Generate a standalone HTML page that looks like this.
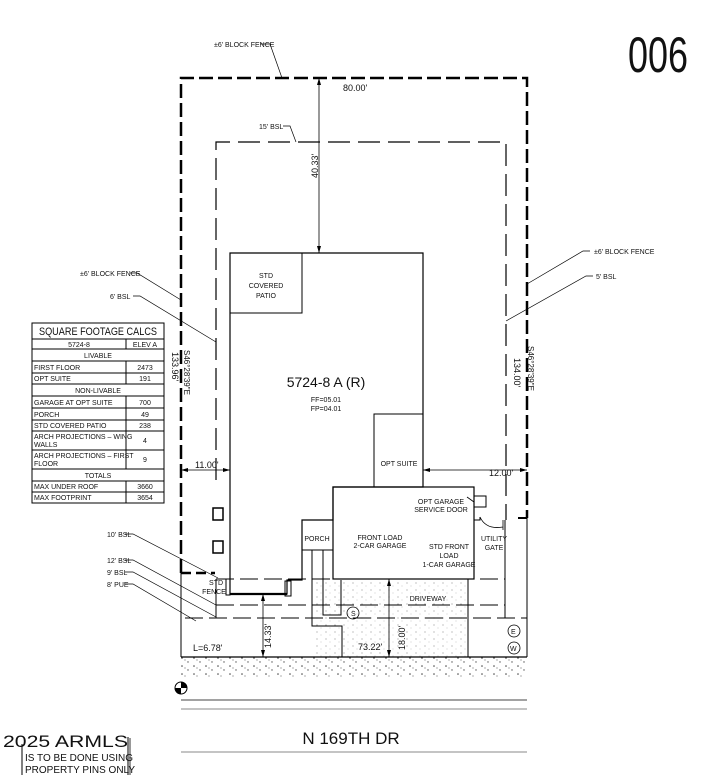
<!DOCTYPE html>
<html><head><style>
html,body{margin:0;padding:0;background:#fff;}
svg{display:block;}
text{font-family:"Liberation Sans",sans-serif;fill:#111;}
</style></head><body>
<svg width="712" height="775" viewBox="0 0 712 775" xmlns="http://www.w3.org/2000/svg">
<defs>
<pattern id="dots" width="9" height="7" patternUnits="userSpaceOnUse">
<circle cx="2" cy="2" r="0.6" fill="#999"/><circle cx="6" cy="5" r="0.5" fill="#bbb"/>
</pattern>
<pattern id="hatch" width="12" height="8" patternUnits="userSpaceOnUse">
<circle cx="2" cy="2" r="0.8" fill="#444"/><circle cx="8" cy="6" r="0.7" fill="#555"/><circle cx="5" cy="4" r="0.6" fill="#777"/>
</pattern>
</defs>
<text x="628" y="72" font-size="50" textLength="60" lengthAdjust="spacingAndGlyphs">006</text>

<rect x="342" y="579" width="126" height="78" fill="url(#dots)"/>
<rect x="314" y="580" width="28" height="77" fill="url(#dots)"/>
<rect x="181" y="657" width="346" height="20" fill="url(#hatch)"/>

<g fill="none" stroke="#000">
<path d="M181 573 V78 H527 V518" stroke-width="2.5" stroke-dasharray="14 5"/>
<path d="M181 573 H215" stroke-width="2.5" stroke-dasharray="10 5"/>
<path d="M518 518 H527" stroke-width="2"/>
<path d="M216 480 V142 H506 V520" stroke-width="1.2" stroke-dasharray="22 8"/>
<path d="M181 573 V657 M527 518 V657" stroke-width="1"/>
<path d="M181 657 H527" stroke-width="1.2"/>
<path d="M216 579 H505" stroke-width="1" stroke-dasharray="18 6"/>
<path d="M216 605 H505" stroke-width="1" stroke-dasharray="18 6"/>
<path d="M185 618 H527" stroke-width="1" stroke-dasharray="18 6"/>
<path d="M216 579 V618 M505 520 V618" stroke-width="1"/>
<path d="M230 253 H423 V487 H333 V520 H302 V580 H287 V594 H230 Z" stroke-width="1.2"/>
<path d="M230 594 H287" stroke-width="2.2"/>
<rect x="226" y="579" width="4" height="16" stroke-width="1"/>
<rect x="285" y="581" width="6" height="15" stroke-width="1"/>
<rect x="230" y="253" width="72" height="60" stroke-width="1"/>
<rect x="374" y="414" width="49" height="73" stroke-width="1"/>
<rect x="333" y="487" width="141" height="92" stroke-width="1.2"/>
<rect x="302" y="520" width="31" height="30" stroke-width="1"/>
<path d="M312 550 V626 H342 V657 M323 550 V615 H341 V580" stroke-width="1"/>
<path d="M468 579 V657 M474 520 H480 V517" stroke-width="1"/>
<rect x="474" y="496" width="12" height="11" stroke-width="1"/>
<path d="M474 502 L467 497" stroke-width="0.8"/>
<path d="M474 510 V520 M503 520 V530 M480 517 Q486 530 503 527" stroke-width="0.8"/>
<rect x="213" y="508" width="10" height="12" stroke-width="1.5"/>
<rect x="213" y="541" width="10" height="12" stroke-width="1.5"/>
<path d="M319 78 V253" stroke-width="0.8"/>
<path d="M181 470 H230 M423 470 H527" stroke-width="0.8"/>
<path d="M263 594 V657 M389 579 V657" stroke-width="0.8"/>
<path d="M260 44 H270 L282 78" stroke-width="0.7"/>
<path d="M283 126 H290 L296 142" stroke-width="0.7"/>
<path d="M130 273 H137 L181 300" stroke-width="0.7"/>
<path d="M133 296 H140 L216 342" stroke-width="0.7"/>
<path d="M590 251 H583 L527 284" stroke-width="0.7"/>
<path d="M593 276 H586 L506 321" stroke-width="0.7"/>
<path d="M125 534 H133 L218 578" stroke-width="0.7"/>
<path d="M125 560 H133 L216 605" stroke-width="0.7"/>
<path d="M125 572 H133 L216 617" stroke-width="0.7"/>
<path d="M125 584 H133 L196 621" stroke-width="0.7"/>
<path d="M181 700 H527" stroke="#444" stroke-width="1"/>
<path d="M181 709 H527" stroke="#888" stroke-width="1"/>
<path d="M181 752 H527" stroke="#888" stroke-width="1"/>
<circle cx="353" cy="613" r="6" stroke-width="0.8"/>
<circle cx="514" cy="631" r="6" stroke-width="0.8"/>
<circle cx="514" cy="648" r="6" stroke-width="0.8"/>
<circle cx="181" cy="688" r="6" stroke-width="1"/>
</g>
<path d="M181 682 A6 6 0 0 1 187 688 H181 Z M181 694 A6 6 0 0 1 175 688 H181 Z" fill="#000"/>
<g fill="#000">
<path d="M319 78 l-2 7 h4Z M319 253 l-2 -7 h4Z"/>
<path d="M181 470 l7 -2 v4Z M230 470 l-7 -2 v4Z M423 470 l7 -2 v4Z M527 470 l-7 -2 v4Z"/>
<path d="M263 594 l-2 7 h4Z M263 657 l-2 -7 h4Z M389 579 l-2 7 h4Z M389 657 l-2 -7 h4Z"/>
</g>

<g font-size="7">
<text x="214" y="47">±6' BLOCK FENCE</text>
<text x="259" y="129">15' BSL</text>
<text x="80" y="276">±6' BLOCK FENCE</text>
<text x="110" y="299">6' BSL</text>
<text x="594" y="254">±6' BLOCK FENCE</text>
<text x="596" y="279">5' BSL</text>
<text x="107" y="537">10' BSL</text>
<text x="107" y="563">12' BSL</text>
<text x="107" y="575">9' BSL</text>
<text x="107" y="587">8' PUE</text>
<text x="266" y="278" text-anchor="middle">STD</text>
<text x="266" y="288" text-anchor="middle">COVERED</text>
<text x="266" y="298" text-anchor="middle">PATIO</text>
<text x="399" y="466" text-anchor="middle">OPT SUITE</text>
<text x="441" y="504" text-anchor="middle">OPT GARAGE</text>
<text x="441" y="512" text-anchor="middle">SERVICE DOOR</text>
<text x="380" y="540" text-anchor="middle">FRONT LOAD</text>
<text x="380" y="548" text-anchor="middle">2-CAR GARAGE</text>
<text x="449" y="549" text-anchor="middle">STD FRONT</text>
<text x="449" y="558" text-anchor="middle">LOAD</text>
<text x="449" y="567" text-anchor="middle">1-CAR GARAGE</text>
<text x="317" y="541" text-anchor="middle">PORCH</text>
<text x="494" y="541" text-anchor="middle">UTILITY</text>
<text x="494" y="550" text-anchor="middle">GATE</text>
<text x="216" y="585" text-anchor="middle">STD</text>
<text x="214" y="594" text-anchor="middle">FENCE</text>
<text x="428" y="601" text-anchor="middle">DRIVEWAY</text>
<text x="351" y="616" font-size="7">S</text>
<text x="511" y="634">E</text>
<text x="510" y="651">W</text>
</g>
<g font-size="9" fill="#333">
<text x="343" y="91">80.00'</text>
<text x="195" y="468">11.00'</text>
<text x="489" y="476">12.00'</text>
<text x="193" y="651">L=6.78'</text>
<text x="358" y="650">73.22'</text>
<text transform="translate(318,178) rotate(-90)">40.33'</text>
<text transform="translate(271,648) rotate(-90)">14.33'</text>
<text transform="translate(405,650) rotate(-90)">18.00'</text>
<text transform="translate(172,352) rotate(90)">133.96'</text>
<text transform="translate(184,350) rotate(90)" font-size="8">S46°28'39"E</text>
<text transform="translate(514,358) rotate(90)">134.00'</text>
<text transform="translate(528,346) rotate(90)" font-size="8">S46°28'39"E</text>
</g>
<text x="326" y="387" font-size="14" text-anchor="middle">5724-8 A (R)</text>
<text x="326" y="402" font-size="7" text-anchor="middle">FF=05.01</text>
<text x="326" y="411" font-size="7" text-anchor="middle">FP=04.01</text>
<text x="351" y="744" font-size="17" text-anchor="middle">N 169TH DR</text>

<g fill="none" stroke="#000" stroke-width="1">
<rect x="32" y="323" width="132" height="180"/>
<path d="M32 339H164 M32 349H164 M32 361H164 M32 373H164 M32 384H164 M32 396H164 M32 408H164 M32 420H164 M32 431H164 M32 450H164 M32 469H164 M32 481H164 M32 492H164"/>
<path d="M126 339V349 M126 361V384 M126 396V469 M126 481V503"/>
</g>
<g font-size="7">
<text x="98" y="335" font-size="11" text-anchor="middle" textLength="118" lengthAdjust="spacingAndGlyphs">SQUARE FOOTAGE CALCS</text>
<text x="79" y="347" text-anchor="middle">5724-8</text><text x="145" y="347" text-anchor="middle">ELEV A</text>
<text x="98" y="358" text-anchor="middle">LIVABLE</text>
<text x="34" y="370">FIRST FLOOR</text><text x="145" y="370" text-anchor="middle">2473</text>
<text x="34" y="381">OPT SUITE</text><text x="145" y="381" text-anchor="middle">191</text>
<text x="98" y="393" text-anchor="middle">NON-LIVABLE</text>
<text x="34" y="405">GARAGE AT OPT SUITE</text><text x="145" y="405" text-anchor="middle">700</text>
<text x="34" y="417">PORCH</text><text x="145" y="417" text-anchor="middle">49</text>
<text x="34" y="428">STD COVERED PATIO</text><text x="145" y="428" text-anchor="middle">238</text>
<text x="34" y="439">ARCH PROJECTIONS – WING</text><text x="34" y="447">WALLS</text><text x="145" y="443" text-anchor="middle">4</text>
<text x="34" y="458">ARCH PROJECTIONS – FIRST</text><text x="34" y="466">FLOOR</text><text x="145" y="462" text-anchor="middle">9</text>
<text x="98" y="478" text-anchor="middle">TOTALS</text>
<text x="34" y="489">MAX UNDER ROOF</text><text x="145" y="489" text-anchor="middle">3660</text>
<text x="34" y="500">MAX FOOTPRINT</text><text x="145" y="500" text-anchor="middle">3654</text>
</g>

<path d="M22 744 V775 M128 737 V775" stroke="#000" stroke-width="1" fill="none"/>
<path d="M130 738 V775" stroke="#999" stroke-width="2" fill="none"/>
<text x="3" y="747" font-size="17" fill="#222" textLength="125" lengthAdjust="spacingAndGlyphs">2025 ARMLS</text>
<text x="25" y="761" font-size="10">IS TO BE DONE USING</text>
<text x="25" y="773" font-size="10">PROPERTY PINS ONLY</text>
</svg>
</body></html>
